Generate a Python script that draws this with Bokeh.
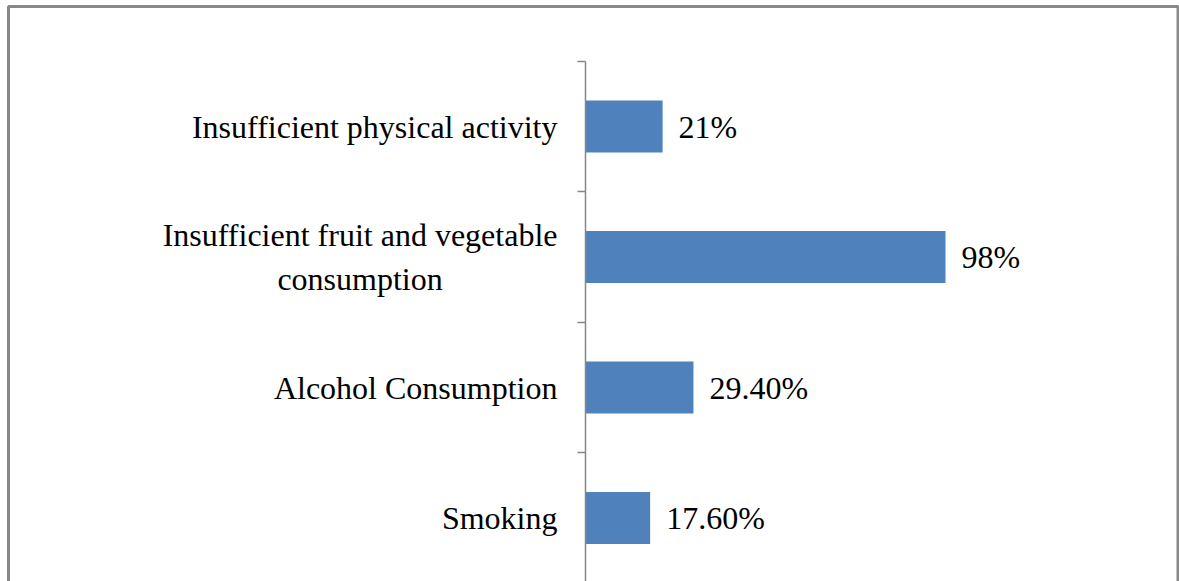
from bokeh.plotting import figure
from bokeh.models import Range1d, LinearAxis, FixedTicker, BoxAnnotation, ColumnDataSource
from bokeh.core.properties import value
from bokeh.embed import file_html
from bokeh.resources import INLINE

# Data (top to bottom as in the chart)
categories = [
    "Insufficient physical activity",
    "Insufficient fruit and vegetable\nconsumption",
    "Alcohol Consumption",
    "Smoking",
]
values = [21, 98, 29.4, 17.6]
value_labels = ["21%", "98%", "29.40%", "17.60%"]

positions = list(range(len(categories)))
boundaries = [i - 0.5 for i in range(len(categories) + 1)]

src = ColumnDataSource(dict(pos=positions, val=values, cat=categories, vlab=value_labels))

FONT = value("Liberation Serif")
FSIZE = "32px"

p = figure(
    width=1179, height=581,
    x_range=Range1d(-157.6, 161.7),
    y_range=Range1d(3.4866, -0.9349),
    x_axis_location=None, y_axis_location=None,
    output_backend="svg", toolbar_location=None,
    min_border_left=6, min_border_right=0, min_border_top=4, min_border_bottom=0,
    outline_line_color=None,
    background_fill_color="white", border_fill_color="white",
)
p.grid.visible = False

p.hbar(y="pos", left=0, right="val", height=0.4, source=src,
       fill_color="#4F81BD", line_color=None)

p.text(x="val", y="pos", text="vlab", source=src, x_offset=16,
       text_align="left", text_baseline="middle",
       text_font=FONT, text_font_size=FSIZE, text_color="black")

p.text(x=0, y="pos", text="cat", source=src, x_offset=-28,
       anchor="center_right", text_align="center", text_baseline="middle",
       text_line_height=1.2,
       text_font=FONT, text_font_size=FSIZE, text_color="black")

ax = LinearAxis(
    fixed_location=0,
    ticker=FixedTicker(ticks=boundaries, minor_ticks=[]),
    bounds=(boundaries[0], boundaries[-1]),
    axis_line_color="#868686", axis_line_width=1.5,
    major_tick_line_color="#868686", major_tick_line_width=1.5,
    major_tick_in=0, major_tick_out=8,
    minor_tick_in=0, minor_tick_out=0,
    major_label_text_color=None, major_label_text_font_size="0px",
)
p.add_layout(ax, "left")

border = BoxAnnotation(
    left=8, right=1177.5, top=6, bottom=640,
    left_units="canvas", right_units="canvas", top_units="canvas", bottom_units="canvas",
    fill_color=None, fill_alpha=0, line_color="#888888", line_alpha=1.0, line_width=3,
)
p.add_layout(border)

open("out.html", "w").write(file_html(p, INLINE))
